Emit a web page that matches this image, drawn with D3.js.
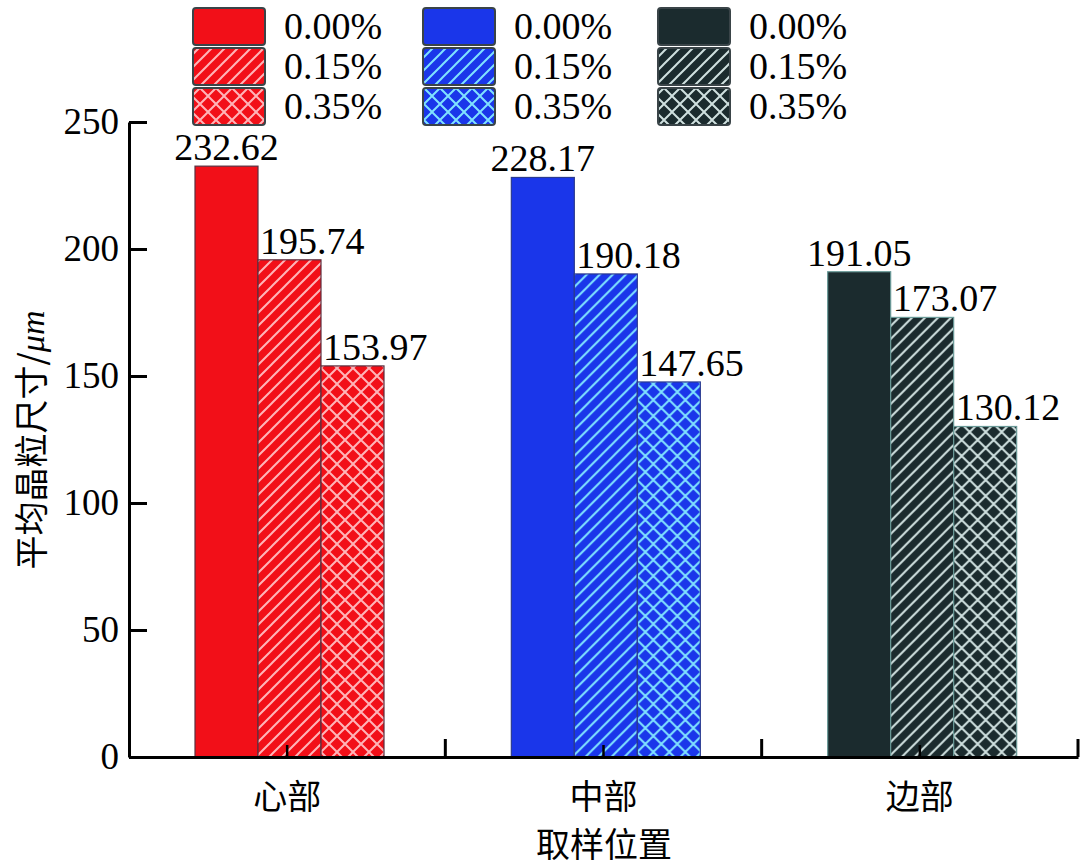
<!DOCTYPE html>
<html>
<head>
<meta charset="utf-8">
<script src="https://cdn.jsdelivr.net/npm/d3@7"></script>
<style>
  body { margin: 0; background: #fff; }
  svg { display: block; }
</style>
</head>
<body>
<div id="chart"></div>
<script>
// data
let categories = ["心部", "中部", "边部"];
let series = ["0.00%", "0.15%", "0.35%"];
let values00 = [232.62, 228.17, 191.05];
let values15 = [195.74, 190.18, 173.07];
let values35 = [153.97, 147.65, 130.12];
let yTicks = [0, 50, 100, 150, 200, 250];

let allValues = [values00, values15, values35];

let svgWidth = 1080;
let svgHeight = 866;
let serif = "'Liberation Serif', 'Times New Roman', 'DejaVu Serif', serif";
let cjk = "'Noto Sans CJK SC', sans-serif";

let baseColors = ["#f20f18", "#1a36ea", "#1b2b2e"];
let lineColors = ["#ffb4b8", "#7fe2ff", "#cfe0df"];
let edgeColors = ["#5a3040", "#2a3a90", "#6a9a98"];
let patternType = ["solid", "diag", "cross"];

let viz = d3.select("#chart")
  .append("svg")
    .attr("width", svgWidth)
    .attr("height", svgHeight);

let defs = viz.append("defs");

// hatch patterns, one per colour
baseColors.forEach(function(c, ci){
  let s = 13;
  let diag = defs.append("pattern")
    .attr("id", "diag" + ci)
    .attr("patternUnits", "userSpaceOnUse")
    .attr("width", s).attr("height", s);
  diag.append("rect").attr("width", s).attr("height", s).attr("fill", c);
  diag.append("path")
    .attr("d", "M0," + s + " L" + s + ",0 M-3,3 L3,-3 M" + (s-3) + "," + (s+3) + " L" + (s+3) + "," + (s-3))
    .attr("stroke", lineColors[ci])
    .attr("stroke-width", 2);

  let k = 16;
  let cross = defs.append("pattern")
    .attr("id", "cross" + ci)
    .attr("patternUnits", "userSpaceOnUse")
    .attr("width", k).attr("height", k);
  cross.append("rect").attr("width", k).attr("height", k).attr("fill", c);
  cross.append("path")
    .attr("d",
      "M0," + k + " L" + k + ",0 M-3,3 L3,-3 M" + (k-3) + "," + (k+3) + " L" + (k+3) + "," + (k-3) +
      " M0,0 L" + k + "," + k + " M-3," + (k-3) + " L3," + (k+3) + " M" + (k-3) + ",-3 L" + (k+3) + ",3")
    .attr("stroke", lineColors[ci])
    .attr("stroke-width", 2);
});

function fillFor(ci, si){
  if(patternType[si] == "solid"){
    return baseColors[ci];
  }
  return "url(#" + patternType[si] + ci + ")";
}

// scales
let x0 = d3.scaleBand()
  .domain(categories)
  .range([129, 1078]);

let x1 = d3.scaleBand()
  .domain(series)
  .range([66, 255]);

let y = d3.scaleLinear()
  .domain([0, 250])
  .range([757, 122]);

// bars
let groups = viz.selectAll(".group").data(categories).enter()
  .append("g")
  .attr("class", "group")
  .attr("transform", function(d){ return "translate(" + x0(d) + ",0)"; });

groups.each(function(cat, ci){
  let g = d3.select(this);
  let rows = series.map(function(s, si){
    return {s: s, si: si, v: allValues[si][ci]};
  });

  g.selectAll("rect").data(rows).enter()
    .append("rect")
    .attr("x", function(d){ return x1(d.s); })
    .attr("y", function(d){ return y(d.v); })
    .attr("width", x1.bandwidth())
    .attr("height", function(d){ return y(0) - y(d.v); })
    .attr("fill", function(d){ return fillFor(ci, d.si); })
    .attr("stroke", edgeColors[ci])
    .attr("stroke-width", 1.2);

  g.selectAll("text").data(rows).enter()
    .append("text")
    .text(function(d){ return d.v.toFixed(2); })
    .attr("x", function(d){
      if(d.si == 0){ return x1(d.s) + x1.bandwidth() / 2; }
      return x1(d.s) + 2;
    })
    .attr("y", function(d){ return y(d.v) - 6; })
    .attr("text-anchor", function(d){ return d.si == 0 ? "middle" : "start"; })
    .attr("font-family", serif)
    .attr("font-size", 38)
    .attr("fill", "#000");
});

// y axis, ticks pointing inside
let yAxis = viz.append("g")
  .attr("transform", "translate(129,0)")
  .call(d3.axisLeft(y).tickValues(yTicks).tickSizeInner(-18).tickSizeOuter(0).tickPadding(10));

yAxis.select(".domain").attr("stroke-width", 3);
yAxis.selectAll(".tick line").attr("stroke-width", 3);
yAxis.selectAll(".tick text")
  .attr("font-family", serif)
  .attr("font-size", 37)
  .attr("fill", "#000");

// x axis, minor ticks at category centres, major ticks between categories
let xAxis = viz.append("g")
  .attr("transform", "translate(0,757)")
  .call(d3.axisBottom(x0).tickSizeInner(-12).tickSizeOuter(0).tickPadding(28));

xAxis.select(".domain").attr("stroke-width", 3);
xAxis.selectAll(".tick line").attr("stroke-width", 2.5);
xAxis.selectAll(".tick text")
  .attr("font-family", cjk)
  .attr("font-size", 34)
  .attr("fill", "#000");

xAxis.selectAll(".major").data(categories).enter()
  .append("line")
  .attr("class", "major")
  .attr("x1", function(d){ return x0(d) + x0.bandwidth(); })
  .attr("x2", function(d){ return x0(d) + x0.bandwidth(); })
  .attr("y1", 0)
  .attr("y2", -18)
  .attr("stroke", "#000")
  .attr("stroke-width", 3);

// axis titles
viz.append("text")
  .text("取样位置")
  .attr("x", 604)
  .attr("y", 857)
  .attr("text-anchor", "middle")
  .attr("font-family", cjk)
  .attr("font-size", 34)
  .attr("fill", "#000");

let yTitle = viz.append("text")
  .attr("transform", "translate(44,440) rotate(-90)")
  .attr("text-anchor", "middle")
  .attr("font-family", cjk)
  .attr("font-size", 34)
  .attr("fill", "#000");
yTitle.append("tspan").text("平均晶粒尺寸/");
yTitle.append("tspan").text("μm")
  .attr("font-family", serif)
  .attr("font-style", "italic");

// legend: one column per colour, one row per concentration
let legendX = [193, 423, 658];
let legendY = [8, 48, 88];

baseColors.forEach(function(c, ci){
  let col = viz.append("g").attr("class", "legendCol");
  col.selectAll("rect").data(series).enter()
    .append("rect")
    .attr("x", legendX[ci])
    .attr("y", function(d, si){ return legendY[si]; })
    .attr("width", 72)
    .attr("height", 37)
    .attr("rx", 3)
    .attr("fill", function(d, si){ return fillFor(ci, si); })
    .attr("stroke", "#3a4448")
    .attr("stroke-width", 2);
  col.selectAll("text").data(series).enter()
    .append("text")
    .text(function(d){ return d; })
    .attr("x", legendX[ci] + 91)
    .attr("y", function(d, si){ return legendY[si] + 31; })
    .attr("font-family", serif)
    .attr("font-size", 38)
    .attr("fill", "#000");
});
</script>
</body>
</html>
